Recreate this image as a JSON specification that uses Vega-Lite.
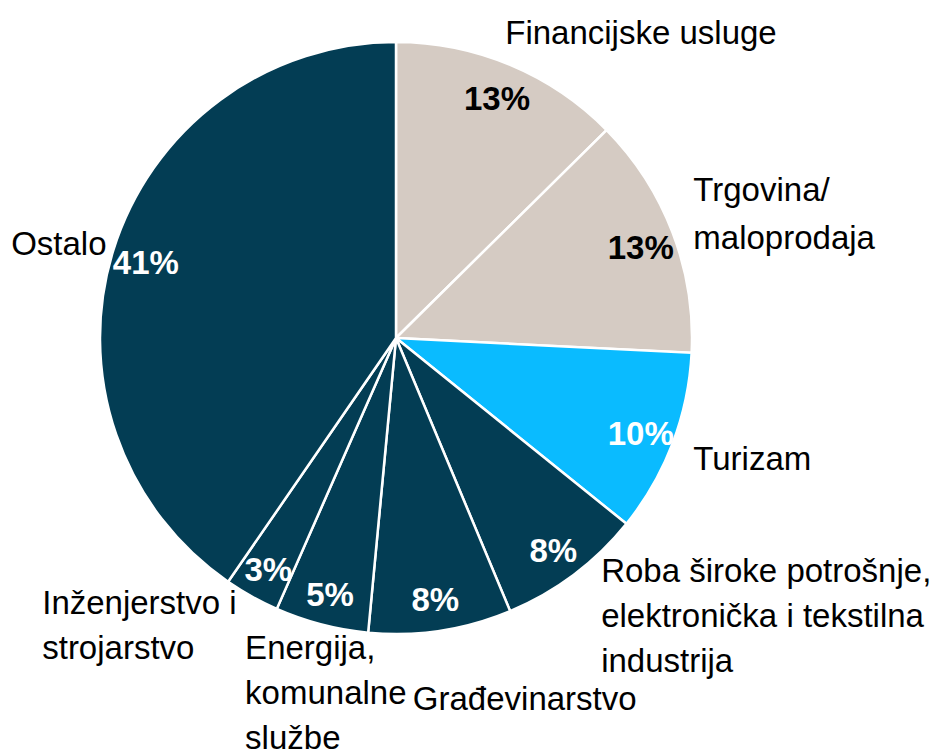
{
  "$schema": "https://vega.github.io/schema/vega-lite/v6.json",
  "width": 792,
  "height": 676,
  "autosize": {"type": "none"},
  "padding": {"left": 0, "top": 0, "right": 141, "bottom": 80},
  "background": "white",
  "config": {"view": {"stroke": null}, "font": "Liberation Sans", "text": {"font": "Liberation Sans"}},
  "data": {
    "values": [
      {"cat": "Financijske usluge", "share": 12.6, "pct": "13%", "label": ["Financijske usluge"]},
      {"cat": "Trgovina/maloprodaja", "share": 13.2, "pct": "13%", "label": ["Trgovina/", "maloprodaja"]},
      {"cat": "Turizam", "share": 10.0, "pct": "10%", "label": ["Turizam"]},
      {"cat": "Roba široke potrošnje", "share": 7.9, "pct": "8%", "label": ["Roba široke potrošnje,", "elektronička i tekstilna", "industrija"]},
      {"cat": "Građevinarstvo", "share": 7.8, "pct": "8%", "label": ["Građevinarstvo"]},
      {"cat": "Energija", "share": 5.1, "pct": "5%", "label": ["Energija,", "komunalne", "\u00a0službe"]},
      {"cat": "Inženjerstvo", "share": 3.0, "pct": "3%", "label": ["Inženjerstvo i", "strojarstvo"]},
      {"cat": "Ostalo", "share": 40.4, "pct": "41%", "label": ["Ostalo"]}
    ]
  },
  "transform": [{"window": [{"op": "row_number", "as": "idx"}]}],
  "encoding": {
    "theta": {"field": "share", "type": "quantitative", "stack": true},
    "order": {"field": "idx", "type": "quantitative"},
    "detail": {"field": "cat", "type": "nominal"}
  },
  "layer": [
    {
      "mark": {"type": "arc", "radius": 296, "stroke": "white", "strokeWidth": 2.5},
      "encoding": {
        "color": {
          "field": "cat", "type": "nominal", "legend": null,
          "scale": {
            "domain": ["Financijske usluge", "Trgovina/maloprodaja", "Turizam", "Roba široke potrošnje", "Građevinarstvo", "Energija", "Inženjerstvo", "Ostalo"],
            "range": ["#D5CBC3", "#D5CBC3", "#0ABBFF", "#033D54", "#033D54", "#033D54", "#033D54", "#033D54"]
          }
        }
      }
    },
    {
      "mark": {"type": "text", "radius": 262, "fontWeight": "bold", "fontSize": 33, "baseline": "middle", "align": "center", "dy": 4},
      "encoding": {
        "text": {"field": "pct"},
        "color": {"condition": {"test": "datum.cat === 'Financijske usluge' || datum.cat === 'Trgovina/maloprodaja'", "value": "#000000"}, "value": "#FFFFFF"}
      }
    },
    {
      "mark": {"type": "text", "radius": 330, "fontSize": 33, "align": "left", "baseline": "middle", "dx": -18, "dy": 0, "color": "black"},
      "encoding": {"text": {"condition": {"test": "datum.cat === 'Financijske usluge'", "field": "label"}, "value": ""}}
    },
    {
      "mark": {"type": "text", "radius": 330, "fontSize": 33, "align": "left", "baseline": "middle", "lineHeight": 48, "dx": -11, "dy": -29, "color": "black"},
      "encoding": {"text": {"condition": {"test": "datum.cat === 'Trgovina/maloprodaja'", "field": "label"}, "value": ""}}
    },
    {
      "mark": {"type": "text", "radius": 330, "fontSize": 33, "align": "left", "baseline": "middle", "dx": -11, "dy": 4, "color": "black"},
      "encoding": {"text": {"condition": {"test": "datum.cat === 'Turizam'", "field": "label"}, "value": ""}}
    },
    {
      "mark": {"type": "text", "radius": 330, "fontSize": 33, "align": "left", "baseline": "middle", "lineHeight": 45, "dx": 7, "dy": -30, "color": "black"},
      "encoding": {"text": {"condition": {"test": "datum.cat === 'Roba široke potrošnje'", "field": "label"}, "value": ""}}
    },
    {
      "mark": {"type": "text", "radius": 365, "fontSize": 33, "align": "left", "baseline": "middle", "dx": -38, "dy": 1, "color": "black"},
      "encoding": {"text": {"condition": {"test": "datum.cat === 'Građevinarstvo'", "field": "label"}, "value": ""}}
    },
    {
      "mark": {"type": "text", "radius": 365, "fontSize": 33, "align": "left", "baseline": "middle", "lineHeight": 45, "dx": -59, "dy": -42, "color": "black"},
      "encoding": {"text": {"condition": {"test": "datum.cat === 'Energija'", "field": "label"}, "value": ""}}
    },
    {
      "mark": {"type": "text", "radius": 330, "fontSize": 33, "align": "left", "baseline": "middle", "lineHeight": 45, "dx": -193, "dy": -22, "color": "black"},
      "encoding": {"text": {"condition": {"test": "datum.cat === 'Inženjerstvo'", "field": "label"}, "value": ""}}
    },
    {
      "mark": {"type": "text", "radius": 300, "fontSize": 33, "align": "right", "baseline": "middle", "dx": -3, "dy": -4, "color": "black"},
      "encoding": {"text": {"condition": {"test": "datum.cat === 'Ostalo'", "field": "label"}, "value": ""}}
    }
  ]
}
